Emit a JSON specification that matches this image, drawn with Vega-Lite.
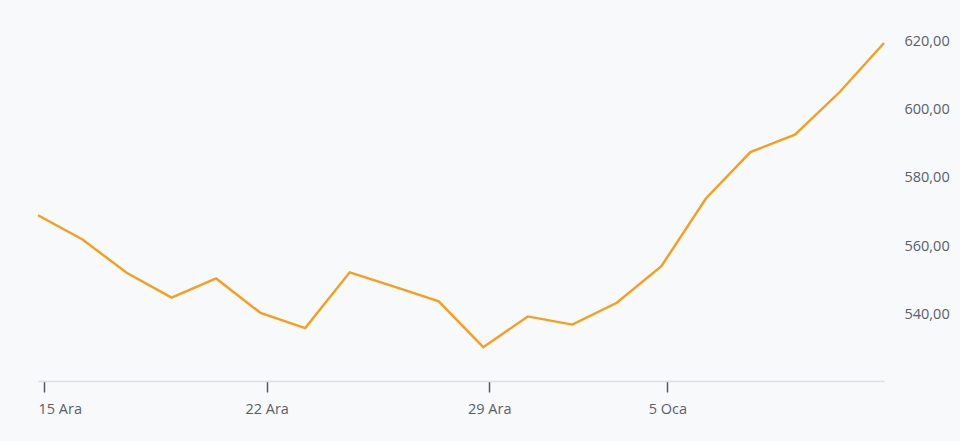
{
  "$schema": "https://vega.github.io/schema/vega-lite/v6.json",
  "width": 846,
  "height": 381,
  "autosize": {"type": "none"},
  "padding": {"left": 38, "top": 0, "right": 76, "bottom": 60},
  "background": "#f8f9fb",
  "config": {"view": {"stroke": null}, "font": "Open Sans"},
  "data": {
    "values": [
      {"i": 0, "date": "2025-12-15", "price": 569.0},
      {"i": 1, "date": "2025-12-16", "price": 561.9},
      {"i": 2, "date": "2025-12-17", "price": 552.1},
      {"i": 3, "date": "2025-12-18", "price": 544.9},
      {"i": 4, "date": "2025-12-19", "price": 550.5},
      {"i": 5, "date": "2025-12-22", "price": 540.4},
      {"i": 6, "date": "2025-12-23", "price": 536.0},
      {"i": 7, "date": "2025-12-24", "price": 552.3},
      {"i": 8, "date": "2025-12-25", "price": 548.1},
      {"i": 9, "date": "2025-12-26", "price": 543.8},
      {"i": 10, "date": "2025-12-29", "price": 530.4},
      {"i": 11, "date": "2025-12-30", "price": 539.4},
      {"i": 12, "date": "2025-12-31", "price": 537.0},
      {"i": 13, "date": "2026-01-02", "price": 543.4},
      {"i": 14, "date": "2026-01-05", "price": 554.1},
      {"i": 15, "date": "2026-01-06", "price": 573.9},
      {"i": 16, "date": "2026-01-07", "price": 587.5},
      {"i": 17, "date": "2026-01-08", "price": 592.6},
      {"i": 18, "date": "2026-01-09", "price": 605.0},
      {"i": 19, "date": "2026-01-12", "price": 619.4}
    ]
  },
  "mark": {"type": "line", "color": "#f59f1b", "strokeWidth": 2.4, "strokeJoin": "miter"},
  "encoding": {
    "x": {
      "field": "i",
      "type": "quantitative",
      "scale": {"domain": [0, 19], "nice": false, "zero": false},
      "axis": {
        "title": null,
        "grid": false,
        "values": [0.135, 5.135, 10.135, 14.135],
        "labelExpr": "datum.value < 1 ? '15 Ara' : datum.value < 6 ? '22 Ara' : datum.value < 11 ? '29 Ara' : '5 Oca'",
        "domainColor": "#dcdfe4",
        "domainWidth": 1.5,
        "tickColor": "#555a62",
        "tickWidth": 1.5,
        "tickSize": 11,
        "labelPadding": 10,
        "labelFontSize": 14.5,
        "labelColor": "#5a5f68",
        "labelFlush": false,
        "labelAlign": {"condition": {"test": "datum.value < 1", "value": "left"}, "value": "center"},
        "labelOffset": {"condition": {"test": "datum.value < 1", "value": -6}, "value": 0}
      }
    },
    "y": {
      "field": "price",
      "type": "quantitative",
      "scale": {"domain": [520.5, 632], "nice": false, "zero": false},
      "axis": {
        "orient": "right",
        "title": null,
        "grid": false,
        "domain": false,
        "ticks": false,
        "tickSize": 0,
        "values": [540, 560, 580, 600, 620],
        "labelExpr": "replace(format(datum.value, '.2f'), '.', ',')",
        "labelPadding": 20,
        "labelFontSize": 14.5,
        "labelColor": "#5a5f68"
      }
    }
  }
}
